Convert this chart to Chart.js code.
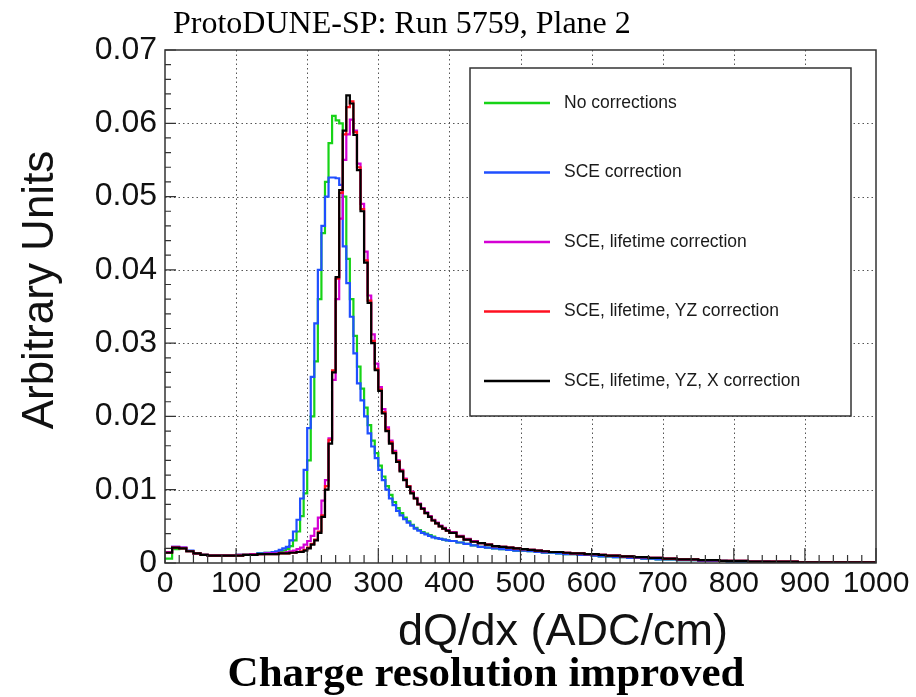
<!DOCTYPE html>
<html>
<head>
<meta charset="utf-8">
<script src="https://cdn.jsdelivr.net/npm/chart.js@4.4.1/dist/chart.umd.min.js"></script>
<style>
  body { margin: 0; background: #fff; }
  #graph { display: block; }
</style>
</head>
<body>
<canvas id="graph" width="916" height="697"></canvas>
<script>
// 히스토그램 bin 아래쪽 경계 (0~150: 10단위, 150~400: 5단위, 400~1000: 10단위)
function range(a, b, step) {
  let out = [];
  for (let v = a; v < b; v += step) out.push(v);
  return out;
}
const bin_lo = [...range(0, 150, 10), ...range(150, 400, 5), ...range(400, 1000, 10)];
const x_max = 1000;

const x_ticks = [0, 100, 200, 300, 400, 500, 600, 700, 800, 900, 1000];
const y_ticks = [0, 0.01, 0.02, 0.03, 0.04, 0.05, 0.06, 0.07];

const labels = [
  "No corrections",
  "SCE correction",
  "SCE, lifetime correction",
  "SCE, lifetime, YZ correction",
  "SCE, lifetime, YZ, X correction",
];

// 초록: 보정 없음
const no_corr = [
  0.0006, 0.0019, 0.0020, 0.0016, 0.0013, 0.0011, 0.0010, 0.0010, 0.0010, 0.0010, 0.0011, 0.0011, 0.0012, 0.0013, 0.0014,
  0.0014, 0.0015, 0.0016, 0.0017, 0.0019, 0.0023, 0.0031, 0.0043, 0.0064, 0.0095,
  0.0140, 0.0200, 0.0275, 0.0360, 0.0450, 0.0520, 0.0573, 0.0610, 0.0604, 0.0600,
  0.0500, 0.0415, 0.0360, 0.0310, 0.0268, 0.0238, 0.0212, 0.0188, 0.0167, 0.0150,
  0.0133, 0.0118, 0.0105, 0.0093, 0.0083, 0.0075, 0.0068, 0.0062, 0.0057, 0.0052,
  0.0048, 0.0045, 0.0042, 0.0040, 0.0038, 0.0036, 0.0034, 0.0033, 0.0032, 0.0031,
  0.0030, 0.0028, 0.0026, 0.0024, 0.0022, 0.0021, 0.0020, 0.0019, 0.0018, 0.0017,
  0.0017, 0.0016, 0.0015, 0.0014, 0.0014, 0.0013, 0.0012, 0.0012, 0.0011, 0.0011,
  0.0010, 0.0009, 0.0009, 0.0008, 0.0008, 0.0007, 0.0007, 0.0006, 0.0006, 0.0005,
  0.0005, 0.0005, 0.0004, 0.0004, 0.0004, 0.0003, 0.0003, 0.0003, 0.0003, 0.0002,
  0.0002, 0.0002, 0.0002, 0.0002, 0.0002, 0.0001, 0.0001, 0.0001, 0.0001, 0.0001,
  0.0001, 0.0001, 0.0001, 0.0001, 0.0001, 0.0001, 0.0001, 0.0001, 0.0001, 0.0001,
];

// 파랑: SCE
const sce = [
  0.0015, 0.0022, 0.0021, 0.0017, 0.0013, 0.0011, 0.0010, 0.0010, 0.0010, 0.0010, 0.0011, 0.0011, 0.0012, 0.0013, 0.0014,
  0.0015, 0.0016, 0.0018, 0.0020, 0.0022, 0.0031, 0.0043, 0.0059, 0.0088, 0.0127,
  0.0184, 0.0254, 0.0327, 0.0400, 0.0460, 0.0500, 0.0526, 0.0526, 0.0525, 0.0516,
  0.0432, 0.0382, 0.0336, 0.0286, 0.0245, 0.0222, 0.0200, 0.0177, 0.0159, 0.0143,
  0.0127, 0.0113, 0.0100, 0.0088, 0.0079, 0.0071, 0.0065, 0.0060, 0.0055, 0.0051,
  0.0047, 0.0044, 0.0041, 0.0039, 0.0037, 0.0035, 0.0034, 0.0033, 0.0032, 0.0031,
  0.0030, 0.0028, 0.0026, 0.0024, 0.0022, 0.0021, 0.0020, 0.0019, 0.0018, 0.0017,
  0.0017, 0.0016, 0.0015, 0.0014, 0.0014, 0.0013, 0.0012, 0.0012, 0.0011, 0.0011,
  0.0010, 0.0009, 0.0009, 0.0008, 0.0008, 0.0007, 0.0007, 0.0006, 0.0006, 0.0005,
  0.0005, 0.0005, 0.0004, 0.0004, 0.0004, 0.0003, 0.0003, 0.0003, 0.0003, 0.0002,
  0.0002, 0.0002, 0.0002, 0.0002, 0.0002, 0.0001, 0.0001, 0.0001, 0.0001, 0.0001,
  0.0001, 0.0001, 0.0001, 0.0001, 0.0001, 0.0001, 0.0001, 0.0001, 0.0001, 0.0001,
];

// 보라: SCE + lifetime
const sce_life = [
  0.0015, 0.0022, 0.0021, 0.0016, 0.0013, 0.0011, 0.0010, 0.0010, 0.0010, 0.0010, 0.0011, 0.0011, 0.0012, 0.0012, 0.0013,
  0.0013, 0.0013, 0.0014, 0.0014, 0.0015, 0.0016, 0.0017, 0.0019, 0.0021, 0.0025,
  0.0030, 0.0037, 0.0047, 0.0062, 0.0085, 0.0113, 0.0170, 0.0250, 0.0360, 0.0470,
  0.0550, 0.0585, 0.0605, 0.0590, 0.0545, 0.0490, 0.0425, 0.0365, 0.0312, 0.0272,
  0.0240, 0.0210, 0.0185, 0.0167, 0.0153, 0.0140, 0.0127, 0.0115, 0.0105, 0.0097,
  0.0089, 0.0081, 0.0075, 0.0069, 0.0064, 0.0059, 0.0055, 0.0051, 0.0048, 0.0045,
  0.0042, 0.0037, 0.0033, 0.0030, 0.0027, 0.0025, 0.0023, 0.0022, 0.0021, 0.0020,
  0.0019, 0.0018, 0.0017, 0.0016, 0.0015, 0.0015, 0.0014, 0.0013, 0.0013, 0.0012,
  0.0012, 0.0011, 0.0010, 0.0010, 0.0009, 0.0009, 0.0008, 0.0008, 0.0007, 0.0007,
  0.0006, 0.0006, 0.0005, 0.0005, 0.0005, 0.0004, 0.0004, 0.0004, 0.0003, 0.0003,
  0.0003, 0.0003, 0.0002, 0.0002, 0.0002, 0.0002, 0.0002, 0.0002, 0.0002, 0.0001,
  0.0001, 0.0001, 0.0001, 0.0001, 0.0001, 0.0001, 0.0001, 0.0001, 0.0001, 0.0001,
];

// 빨강: SCE + lifetime + YZ
const sce_life_yz = [
  0.0014, 0.0021, 0.0020, 0.0016, 0.0013, 0.0011, 0.0010, 0.0010, 0.0010, 0.0010, 0.0010, 0.0011, 0.0011, 0.0012, 0.0012,
  0.0012, 0.0012, 0.0013, 0.0013, 0.0013, 0.0014, 0.0014, 0.0015, 0.0016, 0.0018,
  0.0021, 0.0026, 0.0032, 0.0043, 0.0065, 0.0105, 0.0168, 0.0263, 0.0388, 0.0505,
  0.0585, 0.0622, 0.0630, 0.0588, 0.0540, 0.0483, 0.0413, 0.0358, 0.0303, 0.0265,
  0.0237, 0.0206, 0.0182, 0.0165, 0.0151, 0.0139, 0.0126, 0.0114, 0.0105, 0.0096,
  0.0088, 0.0080, 0.0074, 0.0068, 0.0063, 0.0058, 0.0054, 0.0050, 0.0047, 0.0044,
  0.0041, 0.0036, 0.0032, 0.0029, 0.0027, 0.0025, 0.0023, 0.0022, 0.0021, 0.0020,
  0.0019, 0.0018, 0.0017, 0.0016, 0.0015, 0.0015, 0.0014, 0.0013, 0.0013, 0.0012,
  0.0012, 0.0011, 0.0010, 0.0010, 0.0009, 0.0009, 0.0008, 0.0008, 0.0007, 0.0007,
  0.0006, 0.0006, 0.0005, 0.0005, 0.0005, 0.0004, 0.0004, 0.0004, 0.0003, 0.0003,
  0.0003, 0.0003, 0.0002, 0.0002, 0.0002, 0.0002, 0.0002, 0.0002, 0.0002, 0.0001,
  0.0001, 0.0001, 0.0001, 0.0001, 0.0001, 0.0001, 0.0001, 0.0001, 0.0001, 0.0001,
];

// 검정: SCE + lifetime + YZ + X
const sce_life_yz_x = [
  0.0014, 0.0021, 0.0020, 0.0016, 0.0013, 0.0011, 0.0010, 0.0010, 0.0010, 0.0010, 0.0010, 0.0011, 0.0011, 0.0012, 0.0012,
  0.0012, 0.0012, 0.0013, 0.0013, 0.0013, 0.0014, 0.0014, 0.0015, 0.0015, 0.0017,
  0.0020, 0.0025, 0.0031, 0.0041, 0.0063, 0.0100, 0.0163, 0.0260, 0.0390, 0.0509,
  0.0590, 0.0638, 0.0627, 0.0584, 0.0536, 0.0480, 0.0410, 0.0355, 0.0300, 0.0263,
  0.0235, 0.0204, 0.0180, 0.0163, 0.0150, 0.0138, 0.0125, 0.0113, 0.0104, 0.0095,
  0.0088, 0.0080, 0.0074, 0.0068, 0.0063, 0.0058, 0.0054, 0.0050, 0.0047, 0.0044,
  0.0041, 0.0036, 0.0032, 0.0029, 0.0027, 0.0025, 0.0023, 0.0022, 0.0021, 0.0020,
  0.0019, 0.0018, 0.0017, 0.0016, 0.0015, 0.0015, 0.0014, 0.0013, 0.0013, 0.0012,
  0.0012, 0.0011, 0.0010, 0.0010, 0.0009, 0.0009, 0.0008, 0.0008, 0.0007, 0.0007,
  0.0006, 0.0006, 0.0005, 0.0005, 0.0005, 0.0004, 0.0004, 0.0004, 0.0003, 0.0003,
  0.0003, 0.0003, 0.0002, 0.0002, 0.0002, 0.0002, 0.0002, 0.0002, 0.0002, 0.0001,
  0.0001, 0.0001, 0.0001, 0.0001, 0.0001, 0.0001, 0.0001, 0.0001, 0.0001, 0.0001,
];

const colors = ["#17d317", "#1f4fff", "#d400d4", "#ff1020", "#000000"];

// bin 값 -> {x,y} 점, 마지막 bin은 1000까지 이어줌
function to_points(vals) {
  let pts = vals.map((v, i) => ({ x: bin_lo[i], y: v }));
  pts.push({ x: x_max, y: vals[vals.length - 1] });
  return pts;
}

const sans = "'Liberation Sans', Arial, sans-serif";
const serif = "'Liberation Serif', 'Times New Roman', serif";

// ROOT 스타일: 점선 격자, 프레임, 안쪽 눈금, 범례, 제목
const root_style = {
  id: "root_style",
  beforeDatasetsDraw(chart) {
    const { ctx, chartArea: a, scales } = chart;
    ctx.save();
    ctx.strokeStyle = "#555";
    ctx.lineWidth = 1;
    ctx.setLineDash([1.5, 3]);
    ctx.beginPath();
    x_ticks.slice(1, -1).forEach((v) => {
      const px = Math.round(scales.x.getPixelForValue(v)) + 0.5;
      ctx.moveTo(px, a.top);
      ctx.lineTo(px, a.bottom);
    });
    y_ticks.slice(1, -1).forEach((v) => {
      const py = Math.round(scales.y.getPixelForValue(v)) + 0.5;
      ctx.moveTo(a.left, py);
      ctx.lineTo(a.right, py);
    });
    ctx.stroke();
    ctx.restore();
  },
  afterDatasetsDraw(chart) {
    const { ctx, chartArea: a, scales } = chart;
    ctx.save();
    // 눈금
    ctx.strokeStyle = "#333";
    ctx.lineWidth = 1.2;
    ctx.beginPath();
    for (let v = 0; v <= x_max + 0.1; v += 20) {
      const px = scales.x.getPixelForValue(v);
      const len = v % 100 === 0 ? 15 : 8;
      ctx.moveTo(px, a.bottom);
      ctx.lineTo(px, a.bottom - len);
    }
    for (let k = 0; k <= 35; k++) {
      const py = scales.y.getPixelForValue(k * 0.002);
      const len = k % 5 === 0 ? 11 : 6;
      ctx.moveTo(a.left, py);
      ctx.lineTo(a.left + len, py);
    }
    ctx.stroke();
    // 프레임
    ctx.lineWidth = 1.5;
    ctx.strokeRect(a.left, a.top, a.right - a.left, a.bottom - a.top);

    // 범례
    const lx = a.left + 305, ly = a.top + 18, lw = 381, lh = 348;
    ctx.fillStyle = "#fff";
    ctx.fillRect(lx, ly, lw, lh);
    ctx.strokeStyle = "#333";
    ctx.lineWidth = 1.5;
    ctx.strokeRect(lx, ly, lw, lh);
    ctx.font = "17.5px " + sans;
    ctx.textBaseline = "middle";
    chart.data.datasets.forEach((ds, i) => {
      const yy = ly + 35 + i * 69.5;
      ctx.strokeStyle = ds.borderColor;
      ctx.lineWidth = 2.5;
      ctx.beginPath();
      ctx.moveTo(lx + 14, yy);
      ctx.lineTo(lx + 80, yy);
      ctx.stroke();
      ctx.fillStyle = "#1a1a1a";
      ctx.fillText(ds.label, lx + 94, yy);
    });
    ctx.restore();
  },
  afterDraw(chart) {
    const { ctx } = chart;
    ctx.save();
    ctx.fillStyle = "#000";
    ctx.textBaseline = "alphabetic";
    ctx.textAlign = "left";
    ctx.font = "32px " + serif;
    ctx.fillText("ProtoDUNE-SP: Run 5759, Plane 2", 173, 33);

    ctx.textAlign = "center";
    ctx.fillStyle = "#111";
    ctx.font = "45px " + sans;
    ctx.fillText("dQ/dx (ADC/cm)", 563, 645);

    ctx.save();
    ctx.translate(53, 290);
    ctx.rotate(-Math.PI / 2);
    ctx.font = "44px " + sans;
    ctx.fillText("Arbitrary Units", 0, 0);
    ctx.restore();

    ctx.fillStyle = "#000";
    ctx.font = "bold 43px " + serif;
    ctx.fillText("Charge resolution improved", 486, 686);
    ctx.restore();
  },
};

let config = {
  type: "line",
  data: {
    datasets: [no_corr, sce, sce_life, sce_life_yz, sce_life_yz_x].map((vals, i) => ({
      label: labels[i],
      data: to_points(vals),
      borderColor: colors[i],
      borderWidth: 2.2,
      stepped: true,
      pointRadius: 0,
      fill: false,
      order: 4 - i,
    })),
  },
  options: {
    responsive: false,
    animation: false,
    devicePixelRatio: 1,
    layout: { padding: { top: 50, right: 40, left: 0, bottom: 0 } },
    plugins: { legend: { display: false }, tooltip: { enabled: false } },
    scales: {
      x: {
        type: "linear",
        min: 0,
        max: x_max,
        afterBuildTicks: (s) => { s.ticks = x_ticks.map((v) => ({ value: v })); },
        afterFit: (s) => { s.height = 134; },
        grid: { display: false, drawTicks: false },
        border: { display: false },
        ticks: {
          autoSkip: false,
          maxRotation: 0,
          padding: 3,
          color: "#111",
          font: { family: sans, size: 30 },
          callback: (v) => String(v),
        },
      },
      y: {
        min: 0,
        max: 0.07,
        afterBuildTicks: (s) => { s.ticks = y_ticks.map((v) => ({ value: v })); },
        afterFit: (s) => { s.width = 165; },
        grid: { display: false, drawTicks: false },
        border: { display: false },
        ticks: {
          padding: 8,
          color: "#111",
          font: { family: sans, size: 32 },
          callback: (v) => (v === 0 ? "0" : v.toFixed(2)),
        },
      },
    },
  },
  plugins: [root_style],
};

window.onload = () => {
  new Chart(document.getElementById("graph"), config);
};
</script>
</body>
</html>
